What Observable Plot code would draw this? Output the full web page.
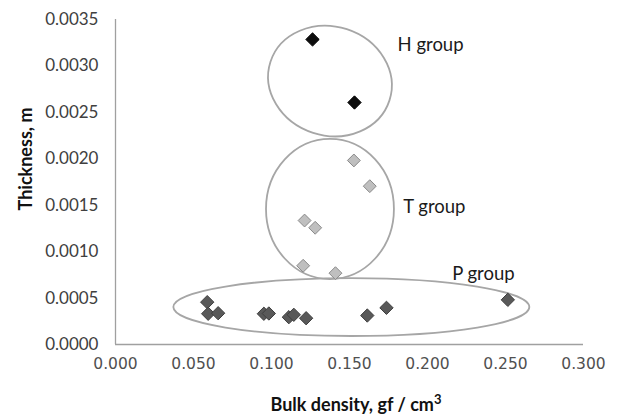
<!DOCTYPE html>
<html><head><meta charset="utf-8">
<script src="https://cdn.jsdelivr.net/npm/d3@7"></script>
<script src="https://cdn.jsdelivr.net/npm/@observablehq/plot@0.6"></script>
<style>body{margin:0;background:#fff;}</style>
</head><body><div id="chart"></div>
<script>
// H group
const hDensity   = [0.1263, 0.1532];
const hThickness = [0.003285, 0.002606];
// T group
const tDensity   = [0.1528, 0.1630, 0.1212, 0.1280, 0.1203, 0.1410];
const tThickness = [0.001982, 0.001705, 0.001335, 0.001257, 0.000848, 0.000768];
// P group
const pDensity   = [0.0588, 0.0594, 0.0658, 0.0951, 0.0983, 0.1111, 0.1143, 0.1222, 0.1614, 0.1737, 0.2515];
const pThickness = [0.000456, 0.000331, 0.000337, 0.000331, 0.000334, 0.000294, 0.000320, 0.000283, 0.000312, 0.000395, 0.000481];

const xTicks = [0, 0.05, 0.10, 0.15, 0.20, 0.25, 0.30];
const yTicks = [0, 0.0005, 0.0010, 0.0015, 0.0020, 0.0025, 0.0030, 0.0035];

const groupLabels    = ["H group", "T group", "P group"];
const labelDensity   = [0.1808, 0.1844, 0.2158];
const labelThickness = [0.00322, 0.001478, 0.000761];

// group outlines (centre and semi-axes in data units)
const ringCx  = [0.1378, 0.1378, 0.1515];
const ringCy  = [0.002832, 0.001454, 0.000398];
const ringRx  = [0.0401, 0.0410, 0.1141];
const ringRy  = [0.000587, 0.000754, 0.000312];
const ringRot = [18, 0, 0];

const xTitle = "Bulk density, gf / cm";
const xTitleSup = "3";
const yTitle = "Thickness, m";

const rows = (xs, ys) => xs.map((x, i) => ({x, y: ys[i]}));
const hRows = rows(hDensity, hThickness);
const tRows = rows(tDensity, tThickness);
const pRows = rows(pDensity, pThickness);
const labelRows = groupLabels.map((t, i) => ({t, x: labelDensity[i], y: labelThickness[i]}));

function rings(index, scales) {
  const g = d3.create("svg:g").attr("fill", "none").attr("stroke", "#a6a6a6").attr("stroke-width", 1.8);
  ringCx.forEach((cx, i) => {
    const px = scales.x(cx), py = scales.y(ringCy[i]);
    g.append("ellipse")
      .attr("cx", px).attr("cy", py)
      .attr("rx", Math.abs(scales.x(cx + ringRx[i]) - px))
      .attr("ry", Math.abs(scales.y(ringCy[i] + ringRy[i]) - py))
      .attr("transform", `rotate(${ringRot[i]},${px},${py})`);
  });
  return g.node();
}

function titles() {
  const g = d3.create("svg:g").attr("font-family", "Lato, sans-serif").attr("font-weight", "bold")
    .attr("font-size", 18).attr("fill", "#111");
  const tx = g.append("text").attr("x", 356).attr("y", 410.5).attr("text-anchor", "middle");
  tx.append("tspan").text(xTitle);
  tx.append("tspan").attr("dy", -7).attr("font-size", 13).text(xTitleSup);
  g.append("text").attr("transform", "translate(32,159) rotate(-90)").attr("text-anchor", "middle").text(yTitle);
  return g.node();
}

const chart = Plot.plot({
  width: 618,
  height: 416,
  marginLeft: 115,
  marginRight: 35,
  marginTop: 19,
  marginBottom: 72,
  style: {background: "#fff", overflow: "visible"},
  x: {domain: [0, 0.3]},
  y: {domain: [0, 0.0035]},
  marks: [
    Plot.axisY({ticks: yTicks, tickFormat: d3.format(".4f"), tickSize: 0, tickPadding: 17,
      fontFamily: "Lato, sans-serif", fontSize: 17, fill: "#404040", label: null}),
    Plot.axisX({ticks: xTicks, tickFormat: d3.format(".3f"), tickSize: 0, tickPadding: 13,
      fontFamily: "DejaVu Sans, sans-serif", fontSize: 15.5, fill: "#505050", label: null}),
    Plot.ruleX([0], {stroke: "#a0a0a0", strokeWidth: 1.3}),
    Plot.ruleY([0], {stroke: "#a0a0a0", strokeWidth: 1.3}),
    rings,
    Plot.dot(pRows, {x: "x", y: "y", symbol: "diamond2", r: 6, fill: "#595959", stroke: "#3f3f3f", strokeWidth: 1}),
    Plot.dot(tRows, {x: "x", y: "y", symbol: "diamond2", r: 5.8, fill: "#bfbfbf", stroke: "#8a8a8a", strokeWidth: 1}),
    Plot.dot(hRows, {x: "x", y: "y", symbol: "diamond2", r: 6, fill: "#0d0d0d", stroke: "#000", strokeWidth: 1}),
    Plot.text(labelRows, {x: "x", y: "y", text: "t", textAnchor: "start", fontFamily: "Lato, sans-serif",
      fontSize: 18.5, fill: "#1a1a1a"}),
    titles
  ]
});
document.getElementById("chart").appendChild(chart);
</script>
</body></html>
